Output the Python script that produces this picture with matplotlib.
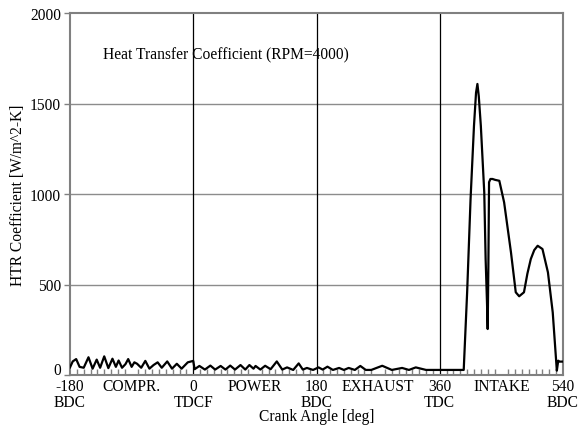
import numpy as np
import matplotlib
matplotlib.use("Agg")
import matplotlib.pyplot as plt
import matplotlib.transforms as mtrans

##########################################
# data
##########################################
# crank angle [deg]
angle = [-180, -176, -171, -166, -160, -153, -147, -141, -136, -130, -124,
         -118, -113, -109, -104, -99, -95, -90, -86, -82, -76, -70, -64,
         -58, -52, -46, -38, -31, -24, -17, -8, 0, 2, 9, 17, 25, 32, 40,
         47, 54, 61, 69, 76, 82, 88, 91, 98, 105, 113, 122, 130, 137, 146,
         154, 160, 166, 175, 183, 189, 196, 204, 213, 220, 227, 236, 244,
         252, 260, 276, 290, 305, 315, 325, 340, 360, 380, 395, 400, 405,
         410, 413, 415, 417, 420, 425, 427, 429, 430, 431, 432, 434, 437,
         441, 447, 454, 464, 471, 476, 483, 488, 493, 498, 503, 510, 518,
         525, 531, 533, 535, 540]
# heat transfer coefficient [W/m^2-K]
htc = [42, 75, 88, 45, 40, 98, 35, 85, 40, 103, 38, 90, 45, 80, 40, 60,
       88, 45, 70, 62, 40, 78, 35, 55, 70, 40, 75, 35, 62, 35, 70, 78, 32,
       50, 30, 52, 30, 50, 30, 52, 30, 55, 30, 55, 35, 50, 30, 51, 32, 75,
       30, 42, 28, 64, 30, 39, 28, 42, 30, 46, 28, 39, 28, 39, 28, 50, 28,
       28, 51, 28, 39, 28, 42, 28, 28, 28, 28, 457, 972, 1377, 1560, 1608,
       1540, 1377, 1009, 641, 400, 254, 600, 1065, 1083, 1083, 1078, 1073,
       954, 678, 457, 435, 457, 560, 641, 690, 714, 696, 567, 346, 24, 79,
       74, 74]

xtick_pos = [-180, -90, 0, 90, 180, 270, 360, 450, 540]
xtick_lab = ["-180\nBDC", "COMPR.\n", "0\nTDCF", "POWER\n", "180\nBDC",
             "EXHAUST\n", "360\nTDC", "INTAKE\n", "540\nBDC"]
ytick_pos = [0, 500, 1000, 1500, 2000]

plt.rcParams['font.family'] = ['Liberation Serif', 'DejaVu Serif']
fs = 11.2

fig = plt.figure(figsize=(5.82, 4.27), dpi=100)
ax = fig.add_axes([70/582, 51/427, 493/582, 362/427])

# grid: gray horizontals, black verticals at the strokes
for yv in ytick_pos[1:-1]:
    ax.axhline(yv, color='#8c8c8c', lw=1.0, zorder=1)
for xv in [0, 180, 360]:
    ax.axvline(xv, color='black', lw=0.9, zorder=1)

ax.plot(angle, htc, color='black', lw=1.6, zorder=3)

ax.set_xlim(-180, 540)
ax.set_ylim(0, 2000)
ax.set_xticks(xtick_pos)
ax.set_xticklabels(xtick_lab, fontsize=fs, linespacing=0.95)
ax.set_xticks(np.arange(-180, 541, 10), minor=True)
ax.set_yticks(ytick_pos)
ax.set_yticklabels([str(v) for v in ytick_pos], fontsize=fs)

ax.tick_params(axis='x', which='major', length=0, pad=2.5)
ax.tick_params(axis='x', which='minor', direction='in', length=4,
               color='#808080', width=1.0)
ax.tick_params(axis='y', which='major', direction='out', length=4,
               color='#808080', width=1.0, pad=2.5)

# lift the "0" label a little so it clears "-180" below it
zero_lab = ax.get_yticklabels()[0]
zero_lab.set_transform(zero_lab.get_transform() +
                       mtrans.ScaledTranslation(0, 5/72, fig.dpi_scale_trans))

for s in ax.spines.values():
    s.set_color('#808080')
    s.set_linewidth(1.5)

xl = ax.set_xlabel("Crank Angle [deg]", fontsize=fs)
xl.set_va('center')
ax.xaxis.set_label_coords(0.5, -41/362)
yl = ax.set_ylabel("HTR Coefficient [W/m^2-K]", fontsize=fs)
yl.set_va('center')
ax.yaxis.set_label_coords(-52/493, 0.5)

ax.text(-132, 1773, "Heat Transfer Coefficient (RPM=4000)", fontsize=fs,
        ha='left', va='center')

fig.savefig("out.png", dpi=100)
